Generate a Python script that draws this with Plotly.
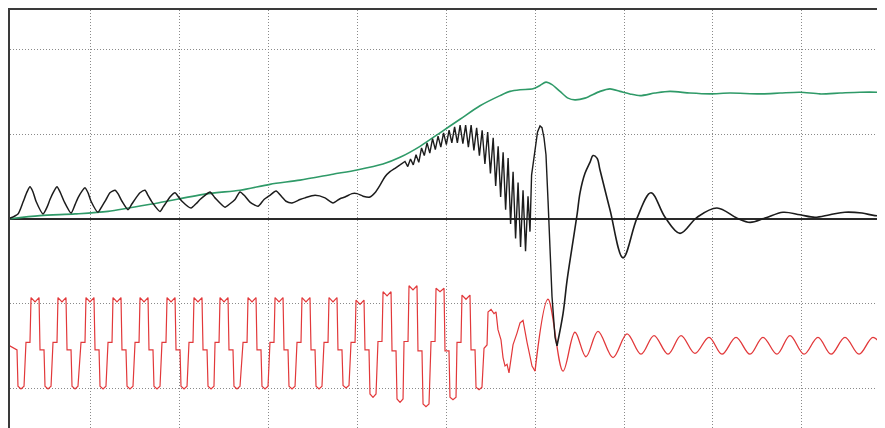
import plotly.graph_objects as go

# ---- values (time in ms-like units, grid every 100; amplitude in grid units) ----
green_t = [7.0, 43.0, 82.4, 119.5, 175.7, 232.0, 268.0, 301.7, 335.5, 372.6, 399.6, 428.8, 448.0,
           470.5, 493.0, 515.5, 538.0, 560.5, 571.7, 583.0, 597.6, 605.5, 612.2, 619.0, 628.0, 637.0,
           644.8, 656.1, 673.0, 684.2, 695.5, 706.7, 718.0, 734.9, 751.7, 774.2, 796.7, 819.2, 853.0,
           875.5, 898.0, 920.5, 943.0, 965.5, 993.6]
green_v = [0.00, 0.04, 0.06, 0.09, 0.19, 0.30, 0.34, 0.41, 0.46, 0.53, 0.58, 0.65, 0.73,
           0.86, 1.02, 1.18, 1.34, 1.46, 1.51, 1.53, 1.54, 1.58, 1.62, 1.59, 1.51, 1.43,
           1.41, 1.43, 1.51, 1.54, 1.51, 1.48, 1.46, 1.49, 1.51, 1.49, 1.48, 1.49, 1.48,
           1.49, 1.50, 1.48, 1.49, 1.50, 1.50]

black_t_slow = [7.0, 18.2, 23.9, 28.4, 31.7, 35.1, 38.5, 46.4, 50.9, 54.2, 58.7, 62.1, 65.5, 70.0,
                77.9, 82.4, 85.7, 90.2, 93.6, 97.0, 100.4, 108.2, 112.7, 117.2, 121.7, 127.4, 130.7,
                135.2, 142.0, 146.5, 151.0, 155.5, 161.1, 164.5, 169.0, 178.0, 181.4, 184.7, 189.2,
                194.9, 198.2, 202.7, 212.9, 218.5, 223.0, 228.6, 234.2, 239.9, 251.1, 256.7, 262.4,
                268.0, 273.6, 279.2, 288.2, 295.0, 301.7, 308.5, 315.2, 319.7, 326.5, 335.5, 341.1,
                352.4, 363.6, 372.6, 380.5, 386.1, 394.0, 399.6, 406.4, 414.2, 419.8, 425.5, 431.1,
                436.7, 442.4, 448.0]
black_v_slow = [0.00, 0.06, 0.20, 0.32, 0.38, 0.32, 0.21, 0.06, 0.14, 0.23, 0.33, 0.38, 0.32, 0.21,
                0.07, 0.17, 0.25, 0.33, 0.37, 0.31, 0.21, 0.08, 0.15, 0.23, 0.31, 0.34, 0.30,
                0.21, 0.11, 0.18, 0.25, 0.31, 0.34, 0.28, 0.20, 0.09, 0.14, 0.19, 0.26,
                0.31, 0.27, 0.21, 0.13, 0.18, 0.23, 0.28, 0.32, 0.25, 0.14, 0.18, 0.23,
                0.32, 0.27, 0.20, 0.15, 0.23, 0.28, 0.33, 0.26, 0.21, 0.19, 0.23, 0.25,
                0.28, 0.25, 0.19, 0.24, 0.26, 0.30, 0.30, 0.27, 0.26, 0.31, 0.40, 0.50,
                0.56, 0.60, 0.64]

black_t_fast = [448.0,
                453.6, 456.7, 459.8, 462.9, 466.0, 469.1, 472.2, 475.3, 478.4, 481.5, 484.6, 487.7,
                490.8, 493.9, 497.0, 500.1, 503.2, 506.3, 509.4, 512.5, 515.6, 518.7, 521.8, 524.9,
                528.0, 531.1, 534.2, 537.3, 540.4, 543.5, 546.6, 549.7, 552.8, 555.6, 558.4, 561.2,
                564.0, 566.8, 569.6, 572.4, 575.2, 578.0, 580.8, 583.6, 586.4, 589.2, 592.0, 594.2,
                596.0, 597.6, 599.9, 602.7, 605.5, 607.7, 610.0, 612.2, 614.5, 616.7, 619.0, 622.4,
                624.6]
black_v_fast = [0.64,
                0.68, 0.62, 0.71, 0.64, 0.76, 0.67, 0.84, 0.75, 0.90, 0.78, 0.95, 0.82,
                0.98, 0.85, 1.02, 0.88, 1.05, 0.90, 1.09, 0.90, 1.11, 0.89, 1.11, 0.85,
                1.11, 0.81, 1.08, 0.75, 1.05, 0.65, 1.03, 0.54, 0.96, 0.39, 0.86, 0.26,
                0.79, 0.11, 0.72, -0.06, 0.56, -0.23, 0.43, -0.33, 0.34, -0.38, 0.27, -0.15,
                0.52, 0.64, 0.85, 1.03, 1.10, 1.08, 0.96, 0.76, 0.22, -0.37, -0.92, -1.40,
                -1.50]

black_t_tail = [624.6, 631.4, 635.9, 641.6, 647.3, 650.5, 656.1, 661.7, 665.1, 669.6, 673.0, 684.2,
                698.9, 714.6, 730.3, 746.2, 763.0, 782.1, 804.6, 827.2, 841.7, 858.6, 878.9, 898.0,
                914.8, 931.6, 948.5, 967.7, 982.3, 993.6]
black_v_tail = [-1.50, -1.12, -0.73, -0.33, 0.06, 0.31, 0.54, 0.67, 0.75, 0.72, 0.58, 0.11,
                -0.46, 0.01, 0.31, 0.02, -0.17, 0.02, 0.13, 0.01, -0.04, 0.01, 0.08, 0.05,
                0.02, 0.05, 0.08, 0.07, 0.04, 0.04]

red_t_step = [7.0, 17.1, 18.2, 21.6, 25.0,
              27.2, 31.7, 32.9, 37.4, 41.9, 43.0, 47.5, 48.6, 52.0, 55.4,
              57.6, 62.1, 63.2, 67.7, 72.2, 73.4, 77.9, 79.0, 82.4, 85.7,
              89.1, 93.6, 94.7, 99.2, 103.7, 104.9, 109.4, 110.5, 113.9, 117.2,
              119.5, 124.0, 125.1, 129.6, 134.1, 135.2, 139.7, 140.9, 144.2, 147.6,
              149.9, 154.4, 155.5, 160.0, 164.5, 165.6, 170.1, 171.2, 174.6, 178.0,
              180.2, 184.7, 185.9, 190.4, 194.9, 196.0, 200.5, 201.6, 205.0, 208.4,
              210.6, 215.1, 216.2, 220.7, 225.2, 226.4, 230.9, 232.0, 235.4, 238.7,
              239.9, 244.4, 245.5, 250.0, 254.5, 255.6, 260.1, 261.2, 264.6, 268.0,
              271.4, 275.9, 277.0, 281.5, 286.0, 287.1, 291.6, 292.7, 296.1, 299.5,
              301.7, 306.2, 307.4, 311.9, 316.4, 317.5, 322.0, 323.1, 326.5, 329.9,
              332.1, 336.6, 337.7, 342.2, 346.7, 347.9, 352.4, 353.5, 356.9, 360.2,
              362.5, 367.0, 368.1, 372.6, 377.1, 378.2, 382.7, 383.9, 387.2, 390.6,
              392.9, 397.4, 398.5, 403.0, 407.5, 408.6, 413.1, 414.2, 417.6, 421.0,
              423.2, 427.7, 428.9, 433.4, 437.9, 439.0, 443.5, 444.6, 448.0, 451.4,
              452.5, 457.0, 458.1, 462.6, 467.1, 468.2, 472.7, 473.9, 477.2, 480.6,
              482.9, 487.4, 488.5, 493.0, 497.5, 498.6, 503.1, 504.2, 507.6, 511.0,
              512.1, 516.6, 517.7, 522.2, 526.7, 527.9, 532.4, 533.5, 536.9, 540.2,
              542.5, 545.9, 547.0, 550.4, 553.7, 556.0, 558.2, 561.6, 563.9, 566.1, 568.4,
              570.6, 572.9, 575.1, 579.6, 583.0, 586.4, 588.6, 590.9, 593.1, 596.5, 599.9]
red_v_step = [-1.49, -1.55, -1.98, -2.01, -1.98,
              -1.46, -1.46, -0.93, -0.98, -0.93, -1.55, -1.55, -1.98, -2.01, -1.98,
              -1.46, -1.46, -0.93, -0.98, -0.93, -1.55, -1.55, -1.98, -2.01, -1.98,
              -1.46, -1.46, -0.93, -0.98, -0.93, -1.55, -1.55, -1.98, -2.01, -1.98,
              -1.46, -1.46, -0.93, -0.98, -0.93, -1.55, -1.55, -1.98, -2.01, -1.98,
              -1.46, -1.46, -0.93, -0.98, -0.93, -1.55, -1.55, -1.98, -2.01, -1.98,
              -1.46, -1.46, -0.93, -0.98, -0.93, -1.55, -1.55, -1.98, -2.01, -1.98,
              -1.46, -1.46, -0.93, -0.98, -0.93, -1.55, -1.55, -1.98, -2.01, -1.98,
              -1.46, -1.46, -0.93, -0.98, -0.93, -1.55, -1.55, -1.98, -2.01, -1.98,
              -1.46, -1.46, -0.93, -0.98, -0.93, -1.55, -1.55, -1.98, -2.01, -1.98,
              -1.46, -1.46, -0.93, -0.98, -0.93, -1.55, -1.55, -1.98, -2.01, -1.98,
              -1.46, -1.46, -0.93, -0.98, -0.93, -1.55, -1.55, -1.98, -2.01, -1.98,
              -1.46, -1.46, -0.93, -0.98, -0.93, -1.55, -1.55, -1.97, -2.00, -1.97,
              -1.46, -1.46, -0.96, -1.01, -0.96, -1.55, -1.55, -2.07, -2.11, -2.07,
              -1.45, -1.45, -0.86, -0.91, -0.86, -1.56, -1.56, -2.13, -2.17, -2.13,
              -1.45, -1.45, -0.79, -0.84, -0.79, -1.56, -1.56, -2.19, -2.22, -2.19,
              -1.45, -1.45, -0.82, -0.86, -0.82, -1.56, -1.56, -2.11, -2.14, -2.11,
              -1.46, -1.46, -0.90, -0.95, -0.90, -1.55, -1.55, -1.99, -2.02, -1.99,
              -1.53, -1.49, -1.10, -1.07, -1.12, -1.10, -1.31, -1.43, -1.64, -1.74, -1.72,
              -1.82, -1.64, -1.49, -1.35, -1.23, -1.20, -1.34, -1.46, -1.57, -1.74, -1.80]

red_t_tail = [599.9, 614.5, 631.4, 644.8, 657.2, 670.7, 687.6, 703.4, 719.1, 733.7, 749.5, 764.1,
              779.8, 795.6, 810.2, 826.0, 841.7, 856.3, 872.1, 886.7, 902.5, 918.2, 932.9, 948.6,
              964.4, 980.1, 993.6]
red_v_tail = [-1.80, -0.95, -1.80, -1.34, -1.63, -1.33, -1.64, -1.36, -1.60, -1.38, -1.60, -1.38,
              -1.59, -1.40, -1.60, -1.40, -1.60, -1.40, -1.60, -1.38, -1.60, -1.40, -1.60, -1.40,
              -1.60, -1.40, -1.57]

GREEN = "#2f9a68"
BLACK = "#1c1c1c"
RED = "#e2383a"

fig = go.Figure()
fig.add_trace(go.Scatter(x=green_t, y=green_v, mode="lines",
                         line=dict(color=GREEN, width=1.6, shape="spline", smoothing=0.8)))
fig.add_trace(go.Scatter(x=red_t_step, y=red_v_step, mode="lines", line=dict(color=RED, width=1.2)))
fig.add_trace(go.Scatter(x=red_t_tail, y=red_v_tail, mode="lines",
                         line=dict(color=RED, width=1.3, shape="spline", smoothing=1.0)))
fig.add_trace(go.Scatter(x=black_t_slow, y=black_v_slow, mode="lines",
                         line=dict(color=BLACK, width=1.5, shape="spline", smoothing=0.6)))
fig.add_trace(go.Scatter(x=black_t_fast, y=black_v_fast, mode="lines", line=dict(color=BLACK, width=1.4)))
fig.add_trace(go.Scatter(x=black_t_tail, y=black_v_tail, mode="lines",
                         line=dict(color=BLACK, width=1.6, shape="spline", smoothing=1.0)))

fig.update_traces(hoverinfo="skip", showlegend=False)

fig.update_layout(
    width=885, height=428,
    margin=dict(l=2, r=0, t=2, b=0),
    paper_bgcolor="white", plot_bgcolor="white",
    showlegend=False,
    xaxis=dict(range=[9.225, 1002.6], tick0=0, dtick=100, showgrid=True,
               gridcolor="#8a8a8a", gridwidth=1, griddash="1px,2px",
               zeroline=False, showticklabels=False, ticks="",
               showline=True, linecolor="#3a3a3a", linewidth=2, side="top"),
    yaxis=dict(range=[-2.568, 2.473], tick0=0, dtick=1, showgrid=True,
               gridcolor="#8a8a8a", gridwidth=1, griddash="1px,2px",
               zeroline=True, zerolinecolor="#2a2a2a", zerolinewidth=2,
               showticklabels=False, ticks="",
               showline=True, linecolor="#3a3a3a", linewidth=2),
)

fig.write_html("out.html")
